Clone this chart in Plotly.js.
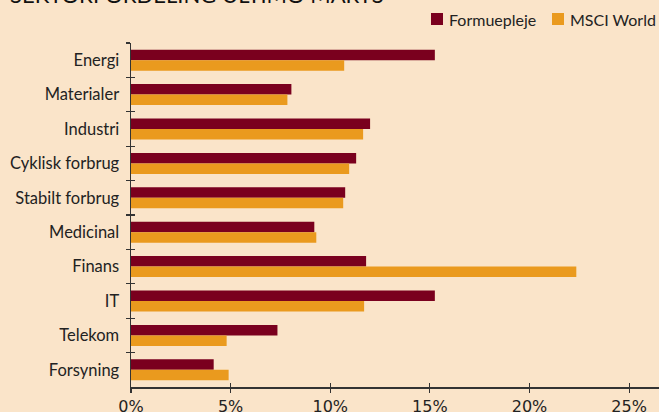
<!DOCTYPE html>
<html>
<head>
<meta charset="utf-8">
<script src="https://cdn.plot.ly/plotly-3.0.1.min.js"></script>
<style>html,body{margin:0;padding:0;background:#fae4c9;}#chart{width:659px;height:412px;}</style>
</head>
<body>
<div id="chart"></div>
<script>
const categories = ["Energi","Materialer","Industri","Cyklisk forbrug","Stabilt forbrug","Medicinal","Finans","IT","Telekom","Forsyning"];
const formuepleje = [15.25, 8.05, 12.0, 11.3, 10.75, 9.2, 11.8, 15.25, 7.35, 4.15];
const msciWorld = [10.7, 7.85, 11.65, 10.95, 10.65, 9.3, 22.35, 11.7, 4.8, 4.9];
const seriesNames = ["Formuepleje", "MSCI World"];
const xTickVals = [0, 5, 10, 15, 20, 25];
const xTickText = ["0%", "5%", "10%", "15%", "20%", "25%"];
const titleText = "SEKTORFORDELING ULTIMO MARTS";

const bg = "#fae4c9";
const colors = ["#7a001e", "#ea9a1e"];
const labelFont = {family: "Lato, 'Open Sans', sans-serif", size: 16.5, color: "#222222"};

const traces = [
  {type: "bar", orientation: "h", name: seriesNames[0], y: categories, x: formuepleje,
   marker: {color: colors[0]}, showlegend: false},
  {type: "bar", orientation: "h", name: seriesNames[1], y: categories, x: msciWorld,
   marker: {color: colors[1]}, showlegend: false},
  {type: "scatter", mode: "none", x: [null], y: [categories[0]], xaxis: "x2", yaxis: "y2",
   showlegend: false, hoverinfo: "skip"}
];

const yRange = [categories.length - 0.5, -0.5];
const xRange = [0, 26.5];

// legend drawn as paper-positioned squares and labels
const plotL = 131, plotW = 528, plotT = 43, plotH = 344;
const px = v => (v - plotL) / plotW;
const py = v => 1 + (plotT - v) / plotH;
const legendSquareX = [431, 552];
const legendShapes = seriesNames.map((n, i) => ({
  type: "rect", xref: "paper", yref: "paper",
  x0: px(legendSquareX[i]), x1: px(legendSquareX[i] + 12),
  y0: py(25), y1: py(13), fillcolor: colors[i], line: {width: 0}
}));
const legendLabels = seriesNames.map((n, i) => ({
  text: n, showarrow: false, xref: "paper", yref: "paper",
  x: px(legendSquareX[i] + 16), xanchor: "left", y: py(19), yanchor: "middle",
  font: {family: "Lato, 'Open Sans', sans-serif", size: 16, color: "#222222"}
}));

const layout = {
  width: 659, height: 412,
  paper_bgcolor: bg, plot_bgcolor: bg,
  margin: {l: plotL, r: 0, t: plotT, b: 25},
  barmode: "group",
  bargap: 0.39, bargroupgap: 0,
  shapes: legendShapes,
  annotations: [{text: titleText, showarrow: false, xref: "paper", yref: "paper",
                 x: -plotL/plotW, xanchor: "left", xshift: 8,
                 y: 1 + (plotT - 10)/plotH, yanchor: "bottom",
                 font: {family: "Lato, sans-serif", size: 22, color: "#111111"}}].concat(legendLabels),
  showlegend: false,
  xaxis: {range: xRange, tickvals: xTickVals, ticktext: xTickText,
          ticks: "outside", ticklen: 4, tickcolor: "#333", tickwidth: 1.2,
          showline: true, linecolor: "#333", linewidth: 1.5,
          showgrid: false, zeroline: false, fixedrange: true,
          tickfont: {family: "'DejaVu Sans', sans-serif", size: 16, color: "#222222"}},
  xaxis2: {range: xRange, overlaying: "x", anchor: "y", side: "bottom",
           tickvals: xTickVals, ticks: "inside", ticklen: 4, tickcolor: "#333", tickwidth: 1.2,
           showticklabels: false, showline: false, showgrid: false, zeroline: false},
  yaxis: {type: "category", categoryarray: categories, range: yRange,
          tickson: "boundaries", ticks: "outside", ticklen: 4, tickcolor: "#333", tickwidth: 1.2,
          showline: true, linecolor: "#333", linewidth: 1.5,
          showgrid: false, zeroline: false, ticklabelstandoff: 7,
          tickfont: labelFont},
  yaxis2: {type: "category", categoryarray: categories, range: yRange,
           overlaying: "y", anchor: "x", side: "left",
           tickson: "boundaries", ticks: "inside", ticklen: 4, tickcolor: "#333", tickwidth: 1.2,
           showticklabels: false, showline: false, showgrid: false, zeroline: false}
};

Plotly.newPlot("chart", traces, layout, {displayModeBar: false, staticPlot: true});
</script>
</body>
</html>
